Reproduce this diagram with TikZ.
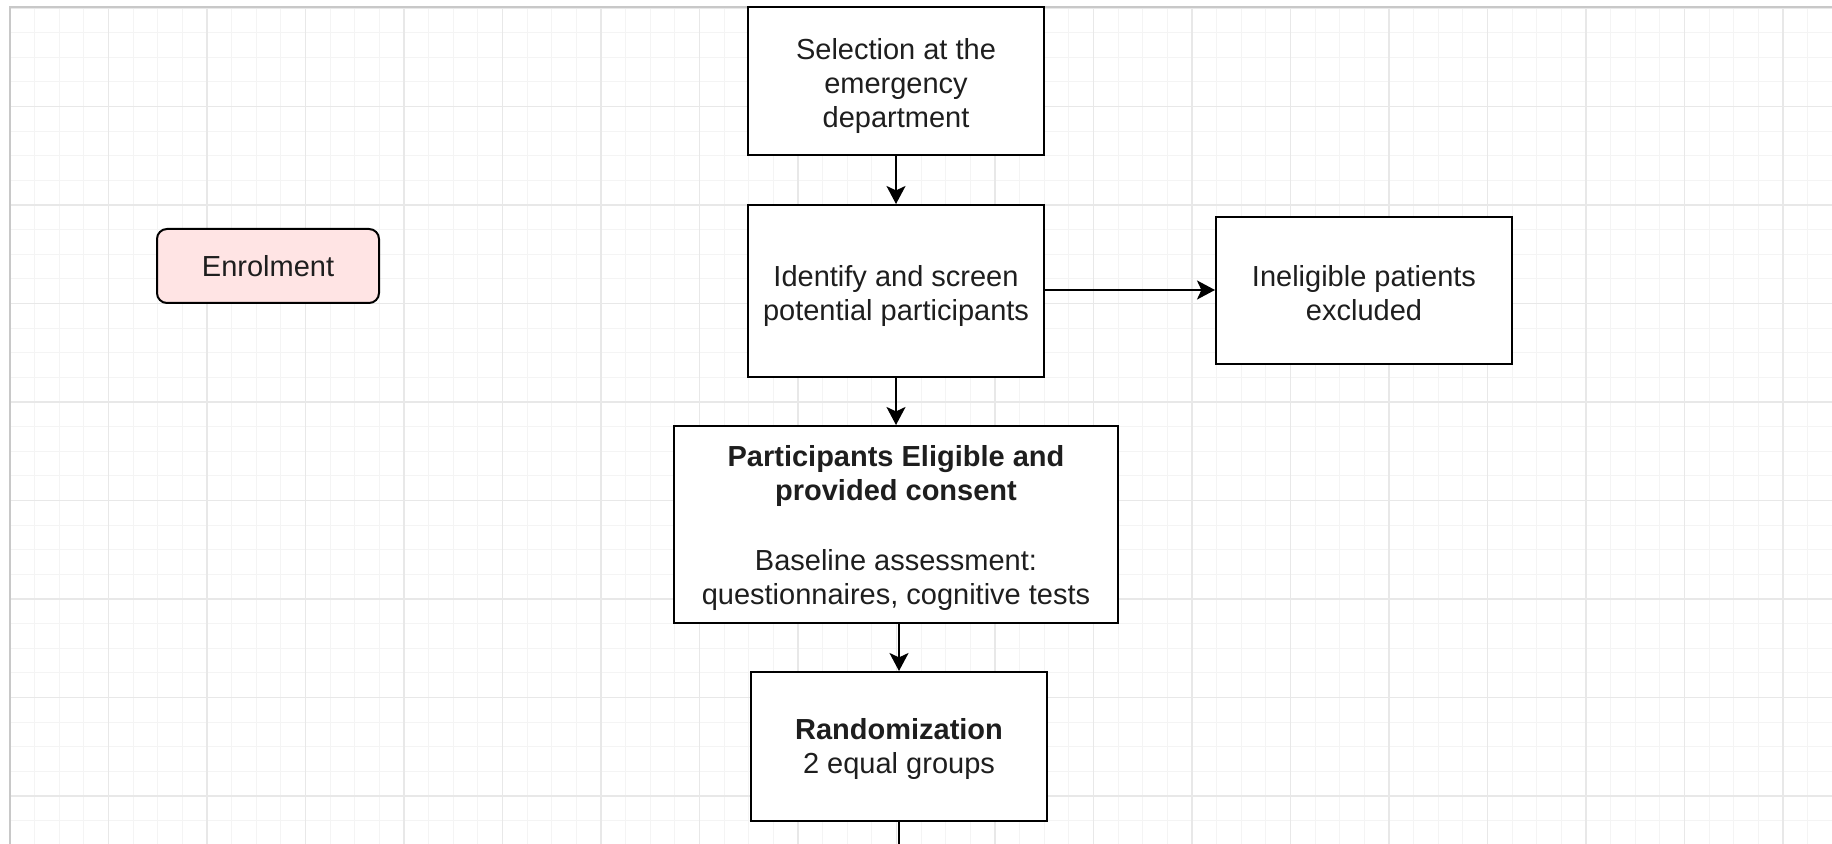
\documentclass[tikz,border=0pt]{standalone}
\usepackage{fontspec}
\setmainfont{Liberation Sans}
\usetikzlibrary{arrows.meta}
\definecolor{gridminor}{HTML}{F4F4F4}
\definecolor{gridmajor}{HTML}{E8E8E8}
\definecolor{pageborder}{HTML}{C8C8C8}
\definecolor{enrolfill}{HTML}{FFE4E4}
\definecolor{boxtext}{HTML}{1E1E1E}
\newcommand{\topstrutx}[1]{\rule{0pt}{#1}}
\tikzset{
  box/.style={draw=black, line width=1pt, fill=white, align=center, inner sep=0pt,
    font=\fontsize{14.5}{17}\selectfont, text=boxtext},
  conn/.style={line width=1pt, draw=black},
  arr/.style={conn, -{Stealth[length=9pt, width=9.5pt, inset=2.2pt]}},
}
\begin{document}
\begin{tikzpicture}[x=0.5pt, y=-0.5pt]
  \fill[white] (0,0) rectangle (1832,844);
  \useasboundingbox (0,0) rectangle (1832,844);
  % grid
  \foreach \i in {0,...,74} {
    \draw[gridminor, line width=0.5pt] ({10+\i*24.625},8) -- ({10+\i*24.625},844);
  }
  \foreach \j in {0,...,34} {
    \draw[gridminor, line width=0.5pt] (10,{8+\j*24.625}) -- (1832,{8+\j*24.625});
  }
  \foreach \i in {0,...,18} {
    \draw[gridmajor, line width=0.6pt] ({10+\i*98.5},8) -- ({10+\i*98.5},844);
  }
  \foreach \j in {0,...,8} {
    \draw[gridmajor, line width=0.6pt] (10,{8+\j*98.5}) -- (1832,{8+\j*98.5});
  }
  \draw[pageborder, line width=1pt] (10,844) -- (10,7) -- (1832,7);

  % nodes
  \node[box, minimum width=148pt, minimum height=74pt] (sel) at (896,81)
    {\topstrutx{15.2pt}Selection at the\\emergency\\department};
  \node[box, minimum width=148pt, minimum height=86pt] (scr) at (896,291)
    {\topstrutx{15.2pt}Identify and screen\\potential participants};
  \node[box, minimum width=148pt, minimum height=73.5pt] (inel) at (1364,290.5)
    {\topstrutx{12.9pt}Ineligible patients\\excluded};
  \node[box, minimum width=222pt, minimum height=98.5pt] (elig) at (896,524.5)
    {\topstrutx{14.5pt}\textbf{Participants Eligible and}\\\textbf{provided consent}\\[18pt]Baseline assessment:\\questionnaires, cognitive tests};
  \node[box, minimum width=148pt, minimum height=74.5pt] (rand) at (899,746.5)
    {\topstrutx{12.9pt}\textbf{Randomization}\\2 equal groups};
  \node[box, fill=enrolfill, rounded corners=5pt, minimum width=111pt, minimum height=37pt] (enrol) at (268,266)
    {Enrolment};
  \coordinate (bottom) at (899,844);

  % connectors
  \draw[arr] (sel.south) -- (scr.north);
  \draw[arr] (scr.east |- 0,290) -- (inel.west |- 0,290);
  \draw[arr] (scr.south) -- (elig.north);
  \draw[arr] (elig.south -| rand.north) -- (rand.north);
  \draw[conn] (rand.south) -- (bottom);
\end{tikzpicture}
\end{document}
